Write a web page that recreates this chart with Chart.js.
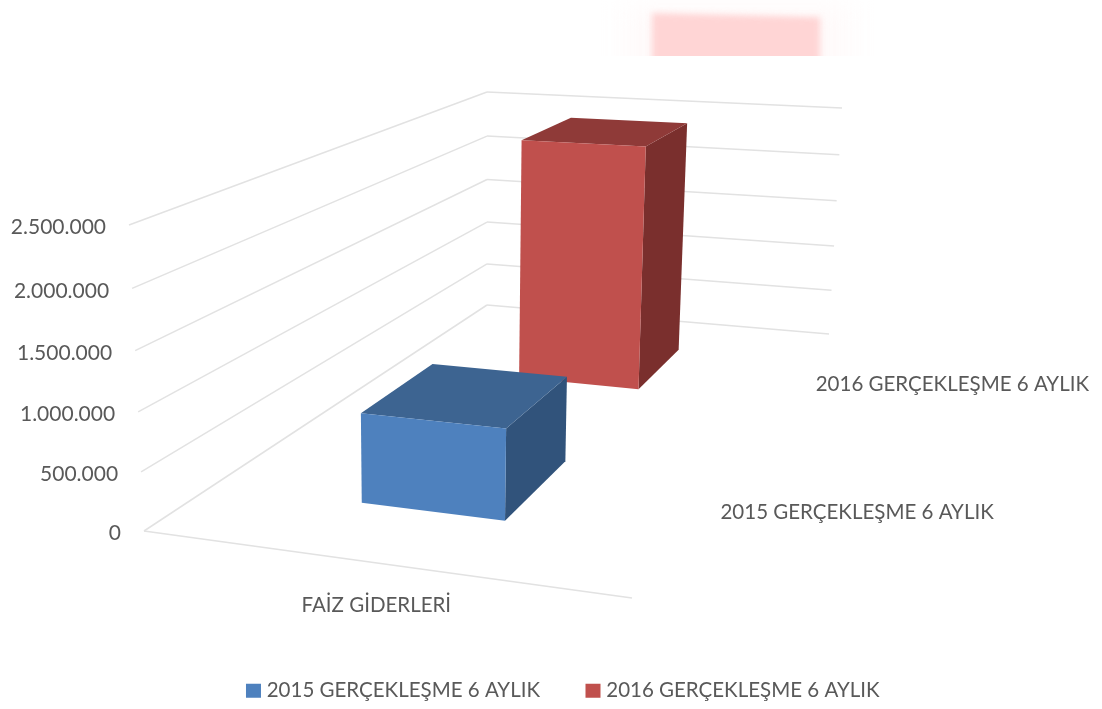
<!DOCTYPE html>
<html><head><meta charset="utf-8">
<style>html,body{margin:0;padding:0;background:#fff}#w{width:1102px;height:709px;position:relative}</style>
<script src="https://cdn.jsdelivr.net/npm/chart.js@4"></script>
</head><body><div id="w"><canvas id="c" width="1102" height="709"></canvas></div>
<script>
const categories = ['FAİZ GİDERLERİ'];
const seriesNames = ['2015 GERÇEKLEŞME 6 AYLIK', '2016 GERÇEKLEŞME 6 AYLIK'];
const values2015 = [780000];
const values2016 = [2440000];
const axisMax = 2500000;
const axisStep = 500000;

const FONT = 'Lato, Carlito, sans-serif';
const TEXT = '#595959';
const GRID = '#e2e2e2';
const FACES = [
  {front:'#4E81BE', top:'#3D6491', side:'#31537B'},
  {front:'#C0504D', top:'#8F3A38', side:'#7A2F2D'}
];
const FLOOR = [[144,531],[632,598],[829,334],[487,305]];
const CEIL  = [[129,225],[640,259],[842,108],[487,92]];
const BAR_U = 0.313, BAR_D = 0.2, BAR_UC = 0.496, CONVEX = 0.045;

function quadMap(q){
  const [p0,p1,p2,p3]=q;
  const dx1=p1[0]-p2[0],dx2=p3[0]-p2[0],sx=p0[0]-p1[0]+p2[0]-p3[0];
  const dy1=p1[1]-p2[1],dy2=p3[1]-p2[1],sy=p0[1]-p1[1]+p2[1]-p3[1];
  const den=dx1*dy2-dx2*dy1;
  const g=(sx*dy2-dx2*sy)/den,h=(dx1*sy-sx*dy1)/den;
  const a=p1[0]-p0[0]+g*p1[0],b=p3[0]-p0[0]+h*p3[0],c=p0[0];
  const d=p1[1]-p0[1]+g*p1[1],e=p3[1]-p0[1]+h*p3[1],f=p0[1];
  return (u,v)=>{const w=g*u+h*v+1;return [(a*u+b*v+c)/w,(d*u+e*v+f)/w];};
}
const floorAt=quadMap(FLOOR), ceilAt=quadMap(CEIL);
function project(u,d,t){
  const p=floorAt(u,d),q=ceilAt(u,d),s=t/(1+CONVEX*(1-t));
  return [p[0]+(q[0]-p[0])*s,p[1]+(q[1]-p[1])*s];
}
function poly(ctx,pts,color){
  ctx.beginPath();pts.forEach((p,i)=>i?ctx.lineTo(p[0],p[1]):ctx.moveTo(p[0],p[1]));ctx.closePath();
  ctx.fillStyle=color;ctx.fill();
}
function seg(ctx,a,b){ctx.beginPath();ctx.moveTo(a[0],a[1]);ctx.lineTo(b[0],b[1]);ctx.stroke();}
function level(scale,val){
  return (scale.bottom-scale.getPixelForValue(val))/(scale.bottom-scale.top);
}

const box3d={
  id:'box3d',
  beforeDraw(chart){
    const ctx=chart.ctx,y=chart.scales.y,x=chart.scales.x;
    y.getLabelItems().forEach((it,i)=>{
      const p=project(0,0,level(y,y.ticks[i].value));
      it.options.translation=[p[0]-23,p[1]+2.5];
    });
    x.getLabelItems().forEach((it,i)=>{
      const p=project((i+.5)/categories.length,0,0);
      it.options.translation=[p[0],p[1]+30];
      it.options.textBaseline='middle';
    });
    ctx.save();
    ctx.beginPath();ctx.rect(600,0,280,56);ctx.clip();
    ctx.filter='blur(14px)';ctx.fillStyle='#fffafa';ctx.fillRect(625,5,225,80);ctx.filter='none';
    ctx.filter='blur(3px)';
    ctx.beginPath();ctx.moveTo(652,13);ctx.lineTo(820,17);ctx.lineTo(820,70);ctx.lineTo(652,70);ctx.closePath();
    ctx.fillStyle='#ffd5d5';ctx.fill();
    ctx.restore();
  },
  beforeDatasetsDraw(chart){
    const ctx=chart.ctx,y=chart.scales.y;
    ctx.save();ctx.strokeStyle=GRID;ctx.lineWidth=1.5;
    y.ticks.forEach(tk=>{
      const t=level(y,tk.value);
      seg(ctx,project(0,0,t),project(0,1,t));
      seg(ctx,project(0,1,t),project(1,1,t));
    });
    seg(ctx,project(0,0,0),project(1,0,0));
    ctx.fillStyle=TEXT;ctx.font='20.5px '+FONT;ctx.textAlign='left';ctx.textBaseline='middle';
    seriesNames.forEach((n,i)=>{
      const p=project(1,(i+.5)/seriesNames.length,0);
      ctx.fillText(n,p[0]+22,p[1]+3);
    });
    ctx.restore();
  },
  beforeDatasetDraw(chart,args){
    const ctx=chart.ctx,y=chart.scales.y,i=args.index,n=chart.data.datasets.length;
    const val=chart.data.datasets[i].data[0],t=level(y,val),f=FACES[i];
    const u0=BAR_UC-BAR_U/2,u1=BAR_UC+BAR_U/2,dc=(i+.5)/n,d0=dc-BAR_D/2,d1=dc+BAR_D/2;
    const P=(u,d,h)=>project(u,d,h);
    ctx.save();
    poly(ctx,[P(u1,d0,0),P(u1,d1,0),P(u1,d1,t),P(u1,d0,t)],f.side);
    poly(ctx,[P(u0,d0,t),P(u1,d0,t),P(u1,d1,t),P(u0,d1,t)],f.top);
    poly(ctx,[P(u0,d0,0),P(u1,d0,0),P(u1,d0,t),P(u0,d0,t)],f.front);
    ctx.restore();
    return false;
  }
};

new Chart(document.getElementById('c'),{
  type:'bar',
  data:{labels:categories,datasets:[
    {label:seriesNames[0],data:values2015,backgroundColor:FACES[0].front},
    {label:seriesNames[1],data:values2016,backgroundColor:FACES[1].front}
  ]},
  options:{
    responsive:false,animation:false,
    layout:{padding:{top:225,left:0,right:-28,bottom:-2}},
    scales:{
      x:{grid:{display:false},border:{display:false},
         ticks:{color:TEXT,font:{family:FONT,size:20.5},maxRotation:0,autoSkip:false},
         afterFit(s){s.height=98.5;}},
      y:{min:0,max:axisMax,grid:{display:false},border:{display:false},
         ticks:{stepSize:axisStep,color:TEXT,font:{family:FONT,size:21},
                callback:v=>v.toLocaleString('de-DE')},
         afterFit(s){s.width=125;}}
    },
    plugins:{
      tooltip:{enabled:false},
      legend:{position:'bottom',labels:{
        color:TEXT,font:{family:FONT,size:20.5},boxWidth:6,boxHeight:5,padding:50,
        generateLabels(chart){
          return chart.data.datasets.map((d,i)=>({text:d.label,fillStyle:d.backgroundColor,strokeStyle:d.backgroundColor,lineWidth:9,lineJoin:'miter',datasetIndex:i,hidden:false,fontColor:TEXT}));
        }
      }}
    }
  },
  plugins:[box3d]
});
</script></body></html>
